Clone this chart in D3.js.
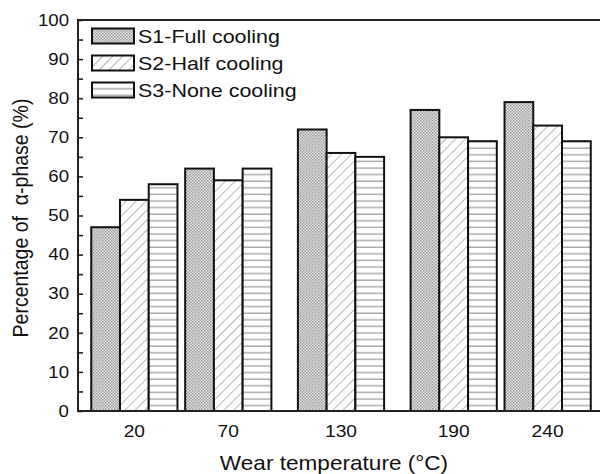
<!DOCTYPE html>
<html>
<head>
<meta charset="utf-8">
<script src="https://cdn.jsdelivr.net/npm/d3@7"></script>
<style>
  html, body { margin: 0; padding: 0; background: #fff; }
  svg { display: block; }
  text { font-family: "Liberation Sans", Arial, Helvetica, sans-serif; fill: #111; }
</style>
</head>
<body>
<svg id="chart" width="600" height="474"></svg>
<script>
// Wear temperatures (°C) and α-phase percentage for each cooling condition
const temperatures = [20, 70, 130, 190, 240];
const seriesNames = ["S1-Full cooling", "S2-Half cooling", "S3-None cooling"];
const fullCooling = [47, 62, 72, 77, 79];
const halfCooling = [54, 59, 66, 70, 73];
const noneCooling = [58, 62, 65, 69, 69];
const yTicks = [0, 10, 20, 30, 40, 50, 60, 70, 80, 90, 100];

const seriesValues = [fullCooling, halfCooling, noneCooling];
const fills = ["url(#dots)", "url(#diag)", "url(#horiz)"];

const svg = d3.select("#chart");
const margin = { left: 78, top: 20, bottom: 411 };
const stretch = 1.13;  // horizontal widening applied to all lettering

// Temperature axis is linear: groups sit at their actual temperature
const x = d3.scaleLinear().domain([-10, 270]).range([margin.left, 604]);
const y = d3.scaleLinear().domain([0, 100]).range([margin.bottom, margin.top]);
const barW = 15.3;  // bar width in °C units

// Fill patterns
const defs = svg.append("defs");
const dots = defs.append("pattern").attr("id", "dots")
  .attr("patternUnits", "userSpaceOnUse").attr("width", 3).attr("height", 3);
dots.append("rect").attr("width", 3).attr("height", 3).attr("fill", "#e2e2e2");
dots.append("rect").attr("x", 0).attr("y", 0).attr("width", 1.5).attr("height", 1.5).attr("fill", "#9a9a9a");
dots.append("rect").attr("x", 1.5).attr("y", 1.5).attr("width", 1.5).attr("height", 1.5).attr("fill", "#a6a6a6");

const diag = defs.append("pattern").attr("id", "diag")
  .attr("patternUnits", "userSpaceOnUse").attr("width", 7).attr("height", 7)
  .attr("patternTransform", "rotate(45)");
diag.append("rect").attr("width", 7).attr("height", 7).attr("fill", "#fff");
diag.append("line").attr("x1", 0).attr("y1", 0).attr("x2", 0).attr("y2", 7)
  .attr("stroke", "#999").attr("stroke-width", 1.4);

const horiz = defs.append("pattern").attr("id", "horiz")
  .attr("patternUnits", "userSpaceOnUse").attr("width", 8).attr("height", 6.6);
horiz.append("rect").attr("width", 8).attr("height", 6.6).attr("fill", "#fff");
horiz.append("line").attr("x1", 0).attr("x2", 8).attr("y1", 3).attr("y2", 3)
  .attr("stroke", "#a0a0a0").attr("stroke-width", 1.3);

// Bars
seriesValues.forEach((vals, si) => {
  svg.append("g").selectAll("rect")
    .data(vals.map((v, i) => ({ t: temperatures[i], v })))
    .join("rect")
    .attr("x", d => x(d.t + (si - 1.5) * barW))
    .attr("width", d => x(d.t + (si - 0.5) * barW) - x(d.t + (si - 1.5) * barW))
    .attr("y", d => y(d.v))
    .attr("height", d => y(0) - y(d.v))
    .attr("fill", fills[si])
    .attr("stroke", "#111")
    .attr("stroke-width", 2);
});

// Frame (right edge lies past the visible width)
svg.append("rect")
  .attr("x", margin.left).attr("y", margin.top)
  .attr("width", 604 - margin.left).attr("height", margin.bottom - margin.top)
  .attr("fill", "none").attr("stroke", "#222").attr("stroke-width", 2);

// Y axis with inward ticks every 5
const yAxis = d3.axisRight(y)
  .tickValues(d3.range(0, 101, 5))
  .tickSize(5)
  .tickFormat("");
const yg = svg.append("g").attr("transform", `translate(${margin.left},0)`).call(yAxis);
yg.select(".domain").remove();
yg.selectAll(".tick line").attr("stroke", "#222").attr("stroke-width", 1.6);

// Y tick labels
svg.append("g").selectAll("text")
  .data(yTicks)
  .join("text")
  .attr("transform", d => `translate(${margin.left - 9},${y(d)}) scale(${stretch},1)`)
  .attr("text-anchor", "end")
  .attr("dy", "0.35em")
  .attr("font-size", 16.5)
  .text(d => d);

// X tick labels at each temperature group
const xAxis = d3.axisBottom(x).tickValues(temperatures).tickSize(0).tickFormat("");
const xg = svg.append("g").attr("transform", `translate(0,${margin.bottom})`).call(xAxis);
xg.select(".domain").remove();
svg.append("g").selectAll("text")
  .data(temperatures)
  .join("text")
  .attr("transform", d => `translate(${x(d)},${margin.bottom + 20}) scale(${stretch},1)`)
  .attr("text-anchor", "middle")
  .attr("dy", "0.35em")
  .attr("font-size", 17)
  .text(d => d);

// Axis titles
svg.append("text")
  .attr("transform", `translate(${(220 + 448) / 2},463) scale(${stretch},1)`)
  .attr("text-anchor", "middle")
  .attr("dy", "0.35em")
  .attr("font-size", 20)
  .text("Wear temperature (°C)");

svg.append("text")
  .attr("transform", `translate(20,${(76 + 360) / 2}) rotate(-90) scale(1,${stretch})`)
  .attr("text-anchor", "middle")
  .attr("dy", "0.35em")
  .attr("font-size", 19.5)
  .attr("xml:space", "preserve")
  .style("white-space", "pre")
  .text("Percentage of  α-phase (%)");

// Legend
const legend = svg.append("g");
seriesNames.forEach((name, i) => {
  const cy = 36 + i * 27;
  legend.append("rect")
    .attr("x", 92).attr("y", cy - 7.5).attr("width", 42).attr("height", 15)
    .attr("fill", fills[i]).attr("stroke", "#111").attr("stroke-width", 2);
  legend.append("text")
    .attr("transform", `translate(138,${cy}) scale(${stretch},1)`)
    .attr("dy", "0.35em")
    .attr("font-size", 19)
    .text(name);
});
</script>
</body>
</html>
